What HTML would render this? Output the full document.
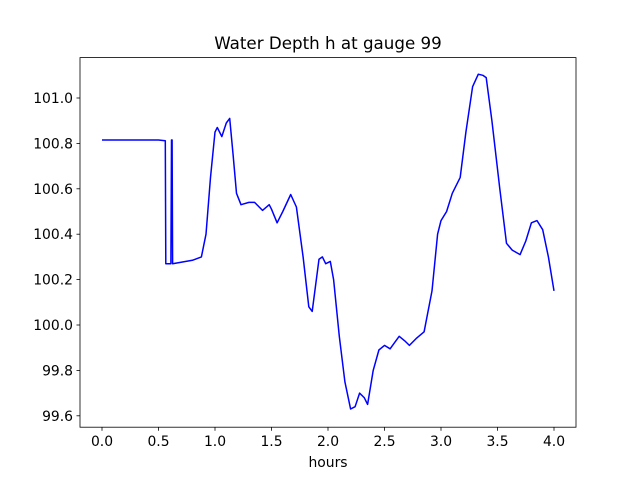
<!DOCTYPE html>
<html><head><meta charset="utf-8"><style>body{margin:0;background:#fff}svg{font-family:"DejaVu Sans","Liberation Sans",sans-serif}</style></head>
<body>
<svg id="c" width="640" height="480"></svg>
<script>
const times=[0,0.5,0.56,0.565,0.61,0.615,0.62,0.625,0.8,0.88,0.92,0.96,1.0,1.02,1.06,1.1,1.13,1.16,1.19,1.23,1.3,1.35,1.42,1.48,1.5,1.55,1.6,1.67,1.72,1.78,1.83,1.86,1.92,1.95,1.98,2.02,2.05,2.1,2.15,2.2,2.24,2.28,2.32,2.35,2.4,2.45,2.5,2.55,2.6,2.63,2.68,2.72,2.78,2.85,2.92,2.97,3.0,3.05,3.1,3.17,3.22,3.28,3.33,3.37,3.4,3.45,3.52,3.58,3.63,3.7,3.75,3.8,3.85,3.9,3.95,4.0];
const depth=[100.815,100.815,100.812,100.27,100.27,100.815,100.815,100.27,100.285,100.30,100.4,100.65,100.85,100.87,100.83,100.89,100.91,100.75,100.58,100.53,100.54,100.54,100.505,100.53,100.51,100.45,100.5,100.575,100.52,100.3,100.08,100.06,100.29,100.3,100.27,100.28,100.2,99.95,99.75,99.63,99.64,99.7,99.68,99.65,99.8,99.89,99.91,99.895,99.93,99.95,99.93,99.91,99.94,99.97,100.15,100.4,100.46,100.5,100.58,100.65,100.85,101.05,101.105,101.1,101.09,100.9,100.6,100.36,100.33,100.31,100.37,100.45,100.46,100.42,100.3,100.15];
const xTicks=[0,0.5,1,1.5,2,2.5,3,3.5,4];
const yTicks=[99.6,99.8,100.0,100.2,100.4,100.6,100.8,101.0];
const svg=document.getElementById('c');const NS='http://www.w3.org/2000/svg';
const X=t=>102+t*113, Y=v=>325-(v-100)/0.2*45.4;
function mk(tag,at,txt){const e=document.createElementNS(NS,tag);for(const k in at)e.setAttribute(k,at[k]);if(txt!==undefined)e.textContent=txt;svg.appendChild(e);return e;}
let p=mk('path',{d:times.map((t,i)=>(i?'L':'M')+X(t).toFixed(1)+','+Y(depth[i]).toFixed(1)).join(''),fill:'none',stroke:'#0000ff','stroke-width':1.5,'stroke-linejoin':'round'});

let f=mk('rect',{x:80,y:57.6,width:496,height:369.6,fill:'none',stroke:'#000','stroke-width':0.8});

xTicks.forEach(t=>{mk('line',{x1:X(t),x2:X(t),y1:427.2,y2:430.7,stroke:'#000','stroke-width':0.8});
 let e=mk('text',{x:X(t),y:446,'text-anchor':'middle','font-size':13.9},t.toFixed(1));
 });
yTicks.forEach(v=>{mk('line',{x1:76.5,x2:80,y1:Y(v),y2:Y(v),stroke:'#000','stroke-width':0.8});
 let e=mk('text',{x:73,y:Y(v)+5,'text-anchor':'end','font-size':13.9},v.toFixed(1));
 });
let xl=mk('text',{x:328,y:467,'text-anchor':'middle','font-size':13.9},'hours');

let ti=mk('text',{x:328,y:49,'text-anchor':'middle','font-size':16.7},'Water Depth h at gauge 99');

</script>
</body></html>
